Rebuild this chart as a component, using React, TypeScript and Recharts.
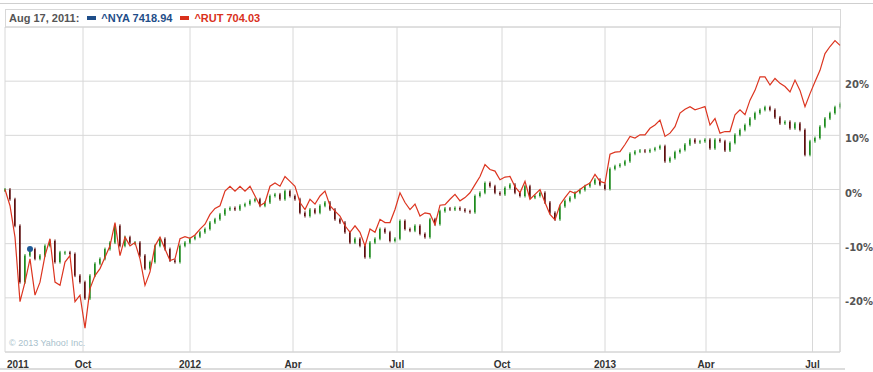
import React from 'react'
import { ComposedChart, Bar, Line, XAxis, YAxis, CartesianGrid, ReferenceLine, ReferenceDot } from 'recharts'

// % change since Jul 26 2011, sampled about every 3 trading days
const rut = [
  0, -3.0, -8.8, -20.7, -17.1, -12.8, -19.5, -17.1, -12.2, -9.1,
  -17.1, -17.7, -13.4, -12.2, -20.7, -19.5, -25.6, -18.3, -15.9, -14.6,
  -12.5, -10.4, -6.1, -12.2, -8.8, -10.4, -9.8, -12.8, -17.7, -15.2,
  -10.4, -8.8, -11.0, -13.1, -12.8, -9.1, -8.7, -9.0, -8.4, -7.3,
  -6.4, -4.6, -3.5, -3.0, -0.3, 0.6, -0.3, 0.6, -0.3, 0.6,
  -1.2, -3.0, -2.4, 0.6, 1.2, 0.6, 2.4, 1.5, 0.6, -2.4,
  -3.7, -1.8, -2.7, -1.2, -0.3, -3.0, -4.0, -4.9, -6.7, -7.9,
  -6.7, -7.9, -10.4, -7.3, -7.9, -5.5, -6.1, -6.1, -3.7, -0.6,
  -2.4, -3.7, -2.7, -4.9, -4.3, -4.5, -6.5, -2.9, -2.8, -1.8,
  -0.9, -2.1, -1.5, -0.6, 0.9, 2.4, 4.6, 3.7, 3.4, 1.8,
  2.3, 2.4, 0.5, -0.6, 1.5, -1.8, -0.9, 0, -2.4, -4.6,
  -5.6, -2.8, -1.5, -0.3, -0.7, 0, 0.7, 1.2, 2.8, 1.5,
  1.2, 6.5, 6.9, 7.0, 8.3, 9.8, 9.5, 10.1, 10.1, 11.3,
  11.9, 12.8, 9.8, 10.4, 11.6, 14.1, 14.8, 15.3, 14.7, 15.0,
  15.3, 11.9, 13.1, 10.4, 10.7, 10.7, 13.8, 14.7, 13.8, 16.5,
  18.3, 20.8, 20.8, 19.3, 20.5, 19.6, 19.0, 18.0, 20.2, 18.3,
  15.3, 17.7, 19.9, 22.0, 25.1, 26.4, 27.5, 26.6,
]

const nya = [
  0, -1.8, -6.7, -17.1, -12.2, -11.0, -12.8, -12.2, -10.4, -9.5,
  -13.4, -11.6, -11.6, -11.9, -15.9, -17.1, -20.1, -15.9, -13.7, -12.8,
  -11.0, -9.8, -6.7, -10.4, -8.8, -9.8, -9.8, -12.2, -14.6, -13.4,
  -10.4, -9.1, -11.0, -13.1, -13.4, -10.4, -9.8, -9.1, -8.7, -7.9,
  -7.3, -6.1, -5.5, -4.6, -3.7, -3.4, -3.7, -3.0, -2.7, -2.1,
  -1.8, -3.0, -2.4, -1.2, -0.9, -1.8, -0.3, -1.2, -1.8, -4.3,
  -4.9, -3.7, -4.3, -3.0, -2.4, -3.7, -5.5, -6.1, -7.9, -9.8,
  -9.1, -10.4, -12.5, -9.8, -9.1, -7.3, -7.9, -9.5, -9.1, -5.8,
  -7.3, -7.6, -6.7, -8.2, -8.8, -5.5, -6.4, -4.0, -3.5, -3.7,
  -3.4, -3.7, -4.0, -4.2, -1.2, -0.6, 1.2, 0.6, -0.6, -0.9,
  0.3, 0.9, -0.6, -1.2, 0.6, -1.5, -1.2, -0.6, -2.4, -4.3,
  -5.5, -3.1, -2.1, -1.5, -0.6, -0.1, 0.6, 1.1, 1.8, 0.9,
  0.1, 3.8, 4.3, 4.6, 5.2, 6.6, 7.0, 7.2, 7.0, 7.3,
  7.6, 8.0, 5.2, 5.8, 6.9, 7.3, 8.3, 9.2, 8.7, 8.9,
  9.2, 7.6, 9.2, 8.9, 7.2, 8.6, 10.1, 11.0, 11.9, 13.1,
  14.1, 14.7, 15.2, 14.7, 13.3, 12.2, 12.5, 11.3, 12.2, 11.0,
  6.4, 8.9, 9.5, 11.6, 13.1, 14.1, 15.2, 15.8,
]

const tickPos = [0, 15.6, 37, 57.6, 78.4, 99.4, 120, 140.2, 161.5]
const tickLabels = ['2011', 'Oct', '2012', 'Apr', 'Jul', 'Oct', '2013', 'Apr', 'Jul']
const yTicks = [-20, -10, 0, 10, 20]
const hoverIdx = 5

const data = rut.map((r, i) => {
  const close = nya[i]
  const open = i > 0 ? nya[i - 1] : nya[i]
  return {
    i,
    rut: r,
    candle: [Math.min(open, close), Math.max(open, close)],
    up: close >= open,
  }
})

const Candle = (props: any) => {
  const { x, width, y, height, payload } = props
  const cx = Math.round(x + width / 2)
  const top = height < 0 ? y + height : y
  const h = Math.max(1, Math.abs(height))
  const fill = payload.up ? '#1e8c1e' : '#5e1010'
  return (
    <g>
      <rect x={cx - 0.5} y={top - 1.5} width={1} height={h + 3} fill={fill} />
      <rect x={cx - 1} y={top} width={1.5} height={h} fill={fill} />
    </g>
  )
}

const XTick = (props: any) => {
  const { x, y, payload, index } = props
  const idx = tickPos.indexOf(payload.value)
  return (
    <text
      x={index === 0 ? x + 2 : x}
      y={y + 8}
      textAnchor={index === 0 ? 'start' : 'middle'}
      fontSize={10}
      fontWeight="bold"
      fontFamily="'Liberation Sans', Arial, sans-serif"
      fill="#333"
    >
      {tickLabels[idx]}
    </text>
  )
}

const YTick = (props: any) => {
  const { y, payload } = props
  return (
    <text x={845} y={y + 7} textAnchor="start" fontSize={10} fontWeight="bold" fontFamily="'DejaVu Sans', Verdana, sans-serif" fill="#555">
      {payload.value}%
    </text>
  )
}

export default function App() {
  return (
    <div style={{ position: 'absolute', left: 0, top: 0, width: 873, height: 372, background: '#fff' }}>
      <div style={{ position: 'absolute', left: 0, top: 3, width: 873, height: 1, background: '#cfcfcf' }} />
      <div
        style={{
          position: 'absolute', left: 5, top: 9, width: 836, height: 19, boxSizing: 'border-box',
          border: '1px solid #d8d8d8', borderBottom: 'none',
          fontFamily: "'Liberation Sans', Arial, sans-serif", fontSize: 11, fontWeight: 'bold',
          lineHeight: '17px', paddingLeft: 3, whiteSpace: 'nowrap', color: '#555',
        }}
      >
        <span>Aug 17, 2011:</span>
        <span style={{ display: 'inline-block', width: 9, height: 4, background: '#1f4e89', margin: '0 5px 2px 8px' }} />
        <span style={{ color: '#1f4e89' }}>^NYA 7418.94</span>
        <span style={{ display: 'inline-block', width: 9, height: 4, background: '#d9311c', margin: '0 5px 2px 8px' }} />
        <span style={{ color: '#d9311c' }}>^RUT 704.03</span>
      </div>
      <div style={{ position: 'absolute', left: 0, top: 0 }}>
        <ComposedChart width={873} height={372} data={data} margin={{ top: 27, right: 0, left: 5, bottom: 0 }}>
          <CartesianGrid stroke="#d8d8d8" />
          <XAxis
            dataKey="i"
            type="number"
            domain={[0, 167]}
            ticks={tickPos}
            interval={0}
            tick={<XTick />}
            tickLine={false}
            axisLine={{ stroke: '#d4d4d4' }}
            height={20}
          />
          <YAxis
            orientation="right"
            domain={[-30, 30]}
            ticks={yTicks}
            tick={<YTick />}
            tickLine={false}
            axisLine={false}
            width={33}
          />
          <ReferenceLine x={167} stroke="#d4d4d4" />
          <ReferenceLine y={30} stroke="#d4d4d4" />
          <Bar dataKey="candle" barSize={2} shape={<Candle />} isAnimationActive={false} />
          <Line type="linear" dataKey="rut" stroke="#dc3520" strokeWidth={1.2} dot={false} isAnimationActive={false} />
          <ReferenceDot x={hoverIdx} y={nya[hoverIdx]} r={3} fill="#1f5a96" stroke="none" />
        </ComposedChart>
      </div>
      <div
        style={{
          position: 'absolute', left: 9, top: 338, fontSize: 9,
          fontFamily: "'Liberation Sans', Arial, sans-serif", color: '#a9bfcc',
        }}
      >
        © 2013 Yahoo! Inc.
      </div>
      <div style={{ position: 'absolute', left: 0, top: 368, width: 845, height: 2, background: '#dcdcdc' }} />
    </div>
  )
}
